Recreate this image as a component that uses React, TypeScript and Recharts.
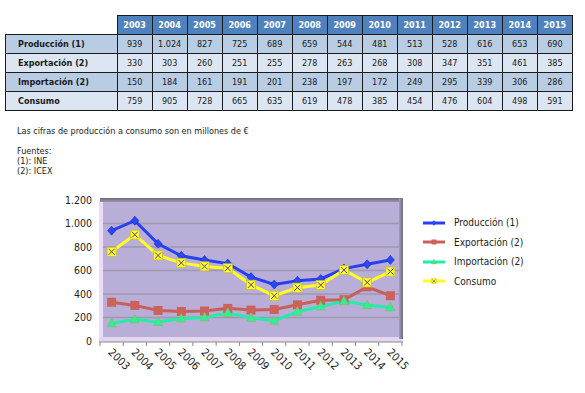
import React from "react";
import {
  CartesianGrid,
  Customized,
  Line,
  LineChart,
  XAxis,
  YAxis,
} from "recharts";

const years = ["2003", "2004", "2005", "2006", "2007", "2008", "2009", "2010", "2011", "2012", "2013", "2014", "2015"];
const produccion = [939, 1024, 827, 725, 689, 659, 544, 481, 513, 528, 616, 653, 690];
const exportacion = [330, 303, 260, 251, 255, 278, 263, 268, 308, 347, 351, 461, 385];
const importacion = [150, 184, 161, 191, 201, 238, 197, 172, 249, 295, 339, 306, 286];
const consumo = [759, 905, 728, 665, 635, 619, 478, 385, 454, 476, 604, 498, 591];
const yTicks = [0, 200, 400, 600, 800, 1000, 1200];

const seriesNames = ["Producción (1)", "Exportación (2)", "Importación (2)", "Consumo"];
const seriesKeys = ["produccion", "exportacion", "importacion", "consumo"];
const seriesValues = [produccion, exportacion, importacion, consumo];
const seriesColors = ["#2840f0", "#c8605a", "#22eea6", "#ffff22"];

const FONT = "'DejaVu Sans Condensed', 'Liberation Sans', sans-serif";

const data = years.map((year, i) => ({
  year,
  produccion: produccion[i],
  exportacion: exportacion[i],
  importacion: importacion[i],
  consumo: consumo[i],
}));

const fmt = (n: number) => String(n).replace(/\B(?=(\d{3})+(?!\d))/g, ".");

// chart geometry
const W = 585;
const H = 210;
const M = { top: 15, right: 183, bottom: 8, left: 40 };
const Y_W = 60;
const X_H = 46;
const PLOT = {
  left: M.left + Y_W,
  top: M.top,
  width: W - M.left - Y_W - M.right,
  height: H - M.top - M.bottom - X_H,
};
const BAND = PLOT.width / years.length;

const Marker = ({ kind, cx, cy }: { kind: number; cx: number; cy: number }) => {
  if (kind === 0)
    return (
      <polygon
        points={`${cx},${cy - 4.5} ${cx + 4},${cy} ${cx},${cy + 4.5} ${cx - 4},${cy}`}
        fill="#2a48f4"
        stroke="#1a2ac0"
        strokeWidth={0.6}
      />
    );
  if (kind === 1)
    return <rect x={cx - 4.5} y={cy - 4.5} width={9} height={9} fill="#cc625c" />;
  if (kind === 2)
    return (
      <polygon
        points={`${cx},${cy - 5} ${cx + 4.5},${cy + 3.5} ${cx - 4.5},${cy + 3.5}`}
        fill="#2ef09c"
        stroke="#8cbc60"
        strokeWidth={0.8}
      />
    );
  return (
    <g>
      <rect x={cx - 4.5} y={cy - 4.5} width={9} height={9} fill="#ffff30" stroke="#c8c028" strokeWidth={0.8} />
      <path
        d={`M${cx - 3},${cy - 3}L${cx + 3},${cy + 3}M${cx + 3},${cy - 3}L${cx - 3},${cy + 3}`}
        stroke="#5a3c90"
        strokeWidth={1}
      />
    </g>
  );
};

const makeDot = (kind: number) => (props: any) => {
  const { cx, cy, index } = props;
  if (cx == null || cy == null) return <g key={index} />;
  return <Marker key={index} kind={kind} cx={cx} cy={cy} />;
};

const Walls = () => {
  const { left, top, width, height } = PLOT;
  const right = left + width;
  const bottom = top + height;
  return (
    <g>
      <defs>
        <linearGradient id="rightWall" x1="0" y1="0" x2="1" y2="0">
          <stop offset="0%" stopColor="#a49fb6" />
          <stop offset="100%" stopColor="#6f6a80" />
        </linearGradient>
        <linearGradient id="topWall" x1="0" y1="0" x2="0" y2="1">
          <stop offset="0%" stopColor="#6e6a7e" />
          <stop offset="100%" stopColor="#9a95ac" />
        </linearGradient>
      </defs>
      <rect x={left - 1} y={top} width={4} height={height} fill="#eadcf4" />
      <rect x={left - 1} y={bottom - 4} width={width + 2} height={5} fill="#e4d6f0" />
      <rect x={left} y={top - 2} width={width + 1} height={4} fill="url(#topWall)" />
      <rect x={right - 3} y={top - 2} width={4} height={height} fill="url(#rightWall)" />
      <line x1={left - 1} y1={bottom + 1} x2={right + 1} y2={bottom + 1} stroke="#8a8a8a" strokeWidth={1} />
    </g>
  );
};

const XTick = (props: any) => {
  const { x, payload, index } = props;
  const base = PLOT.top + PLOT.height + 1;
  const tx = x - 4;
  const ty = base + 11;
  return (
    <g>
      <line x1={x - BAND / 2} y1={base} x2={x - BAND / 2} y2={base + 4} stroke="#8a8a8a" />
      {index === years.length - 1 && (
        <line x1={x + BAND / 2} y1={base} x2={x + BAND / 2} y2={base + 4} stroke="#8a8a8a" />
      )}
      <text
        x={tx}
        y={ty}
        transform={`rotate(45, ${tx}, ${ty})`}
        textAnchor="start"
        fontSize={11}
        fontFamily={FONT}
        fill="#222"
      >
        {payload.value}
      </text>
    </g>
  );
};

const ChartLegend = () => (
  <div style={{ fontFamily: FONT, fontSize: 10, color: "#222" }}>
    {seriesNames.map((name, i) => (
      <div key={name} style={{ height: 19.5, display: "flex", alignItems: "center" }}>
        <svg width={24} height={12} style={{ marginRight: 8 }}>
          <line x1={1} y1={6} x2={23} y2={6} stroke={seriesColors[i]} strokeWidth={3} />
          <g transform="translate(12,6) scale(0.55) translate(-12,-6)">
            <Marker kind={i} cx={12} cy={6} />
          </g>
        </svg>
        <span>{name}</span>
      </div>
    ))}
  </div>
);

const DataTable = () => {
  const cell: React.CSSProperties = {
    border: "1px solid #1a1a1a",
    height: 18,
    padding: 0,
    textAlign: "center",
    width: 34,
  };
  const rowBg = ["#b8cce4", "#dce6f2", "#b8cce4", "#dce6f2"];
  return (
    <table
      style={{
        borderCollapse: "collapse",
        fontFamily: FONT,
        fontSize: 9,
        color: "#1a1a1a",
        tableLayout: "fixed",
        width: 568,
      }}
    >
      <thead>
        <tr>
          <th style={{ width: 111, padding: 0, border: "none" }} />
          {years.map((y) => (
            <th key={y} style={{ ...cell, background: "#4f81bd", color: "#fff", fontWeight: "bold" }}>
              {y}
            </th>
          ))}
        </tr>
      </thead>
      <tbody>
        {seriesNames.map((name, r) => (
          <tr key={name} style={{ background: rowBg[r] }}>
            <td style={{ ...cell, width: 111, textAlign: "left", paddingLeft: 12, fontWeight: "bold" }}>{name}</td>
            {seriesValues[r].map((v, i) => (
              <td key={i} style={cell}>
                {fmt(v)}
              </td>
            ))}
          </tr>
        ))}
      </tbody>
    </table>
  );
};

export default function App() {
  return (
    <div style={{ position: "absolute", left: 0, top: 0, width: 585, height: 393, background: "#fff" }}>
      <div style={{ position: "absolute", left: 5, top: 15 }}>
        <DataTable />
      </div>
      <div style={{ position: "absolute", left: 17, top: 125, fontFamily: FONT, fontSize: 9, color: "#222", lineHeight: "12px" }}>
        Las cifras de producción a consumo son en millones de €
      </div>
      <div style={{ position: "absolute", left: 17, top: 146, fontFamily: FONT, fontSize: 9, color: "#222", lineHeight: "10px" }}>
        <div>Fuentes:</div>
        <div>(1): INE</div>
        <div>(2): ICEX</div>
      </div>
      <div style={{ position: "absolute", left: 0, top: 185 }}>
        <LineChart width={W} height={H} data={data} margin={M}>
          <CartesianGrid horizontal vertical={false} stroke="#9f99ae" strokeWidth={1.5} fill="#b8aed8" />
          <Customized component={Walls} />
          <XAxis
            dataKey="year"
            height={X_H}
            padding={{ left: BAND / 2, right: BAND / 2 }}
            axisLine={false}
            tickLine={false}
            tick={<XTick />}
            interval={0}
          />
          <YAxis
            width={Y_W}
            domain={[0, 1200]}
            ticks={yTicks}
            tickFormatter={fmt}
            axisLine={false}
            tickLine={false}
            tick={{ fontSize: 10.5, fontFamily: FONT, fill: "#222" }}
          />
          {seriesKeys.map((key, i) => (
            <Line
              key={key}
              type="linear"
              dataKey={key}
              name={seriesNames[i]}
              stroke={seriesColors[i]}
              strokeWidth={3}
              dot={makeDot(i)}
              activeDot={false}
              isAnimationActive={false}
            />
          ))}
        </LineChart>
      </div>
      <div style={{ position: "absolute", left: 422, top: 213 }}>
        <ChartLegend />
      </div>
    </div>
  );
}
